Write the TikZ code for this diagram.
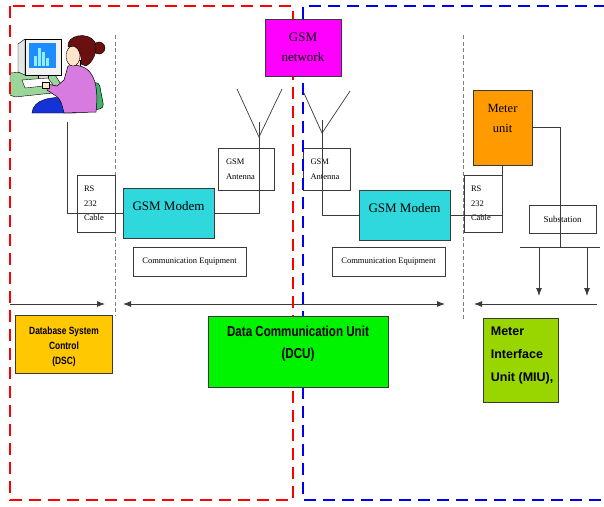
\documentclass[tikz,border=0pt]{standalone}
\usepackage{fontspec}
\setmainfont{Liberation Serif}
\setsansfont{Liberation Sans}
\newfontfamily\estrecha[FakeStretch=0.8]{Liberation Sans}
\usetikzlibrary{arrows.meta}
\definecolor{Magenta}{HTML}{FF00FF}
\definecolor{Cian}{HTML}{2ED8DC}
\definecolor{Naranja}{HTML}{FF9A00}
\definecolor{Amarillo}{HTML}{FFC800}
\definecolor{VerdeVivo}{HTML}{00F400}
\definecolor{VerdeLima}{HTML}{99D600}
\definecolor{Rojo}{HTML}{FF0000}
\definecolor{Azul}{HTML}{0000F0}
\definecolor{GrisOscuro}{HTML}{3A3A3A}
\definecolor{Mesa}{HTML}{9AD69A}
\definecolor{Pantalla}{HTML}{1E8CFF}
\definecolor{Barras}{HTML}{8FEFFF}
\definecolor{Pelo}{HTML}{6A1010}
\definecolor{Piel}{HTML}{FFE6C8}
\definecolor{Blusa}{HTML}{D77BE0}
\definecolor{Pantalon}{HTML}{1433D6}
\definecolor{Silla}{HTML}{3DB86A}

\begin{document}
\begin{tikzpicture}[
  x=1pt,y=-1pt,
  >={Latex[length=8pt,width=6pt]},
  font=\fontsize{8.5}{14.5}\selectfont,
  caja/.style={draw=GrisOscuro,line width=0.7pt,inner sep=0pt,align=center},
  rotulo/.style={inner sep=0pt},
  linea/.style={GrisOscuro,line width=0.7pt},
  arr/.style={->,GrisOscuro,line width=0.9pt},
  guia/.style={gray,line width=0.6pt,dash pattern=on 4pt off 2.5pt},
  zona/.style={line width=2.8pt,dash pattern=on 12pt off 7pt}
]
  \useasboundingbox (0,0) rectangle (604,506);
  \fill[white] (0,0) rectangle (604,506);

  % usuaria frente al ordenador
  \filldraw[fill=Mesa,draw=black,line width=0.4pt] (10,73) -- (52,70) -- (62,86) -- (62,92) -- (15,97) -- (10,95) -- cycle;
  \filldraw[fill=black!10,draw=black,line width=0.4pt] (18,44) -- (25,39) -- (25,75) -- (18,72) -- cycle;
  \filldraw[fill=black!5,draw=black,line width=0.5pt] (25,39) rectangle (61,75);
  \fill[Pantalla] (29,43) rectangle (56,68);
  \foreach \x/\h in {34/10,38/18,42/14,46/8}
    \fill[Barras] (\x,66) rectangle ++(3,-\h);
  \filldraw[fill=black!15,draw=black,line width=0.4pt] (38,75) rectangle (48,79);
  \filldraw[fill=white,draw=black,line width=0.4pt] (22,80) -- (48,78) -- (53,85) -- (25,88) -- cycle;
  \filldraw[fill=Silla,draw=black,line width=0.5pt,rounded corners=4pt] (74,86) -- (99,82) -- (104,108) -- (80,113) -- cycle;
  \draw[black!70,line width=0.8pt] (90,88) -- (88,110);
  \filldraw[fill=Pantalon,draw=black,line width=0.4pt] (32,113) .. controls (33,99) and (52,96) .. (70,98) -- (76,113) -- cycle;
  \filldraw[fill=Piel,draw=black,line width=0.4pt] (72,60) rectangle (80,70);
  \filldraw[fill=Blusa,draw=black,line width=0.5pt] (68,66) .. controls (90,62) and (100,78) .. (96,112) -- (64,113) .. controls (62,104) and (60,98) .. (56,96) -- (47,90) -- (47,84) -- (57,86) -- (64,80) -- cycle;
  \filldraw[fill=Piel,draw=black,line width=0.4pt] (42,82) rectangle (49,88);
  \filldraw[fill=Piel,draw=black,line width=0.4pt] (73,56) ellipse (7 and 10);
  \filldraw[fill=Pelo,draw=black,line width=0.4pt] (99,48) circle (6);
  \filldraw[fill=Pelo,draw=black,line width=0.4pt] (68,47) .. controls (66,35) and (88,31) .. (95,42) .. controls (98,52) and (93,62) .. (86,66) -- (81,64) .. controls (82,56) and (79,48) .. (74,46) -- cycle;
  \coordinate (pc) at (67,122);

  % separaciones entre bloques
  \draw[guia] (115,35) -- (115,315);
  \draw[guia] (463,35) -- (463,320);

  % lado del centro de datos
  \node[caja,minimum width=38pt,minimum height=57pt,text width=24pt,align=left] (rsA) at (96,203.5) {RS\\232\\Cable};
  \node[caja,fill=Cian,minimum width=91pt,minimum height=50pt,text depth=14pt,font=\fontsize{13}{15}\selectfont] (modemA) at (168.5,213) {GSM Modem};
  \node[caja,minimum width=56pt,minimum height=42pt,text width=40pt,align=left] (antA) at (246,169) {GSM\\Antenna};
  \node[caja,minimum width=113pt,minimum height=29pt] (equipoA) at (189.5,261.5) {Communication Equipment};
  \coordinate (vA1) at (237,89);
  \coordinate (puntaA) at (259,137);
  \coordinate (vA2) at (282,89);
  \coordinate (mastilA) at (259,122);
  \draw[linea] (pc) |- (modemA.west);
  \draw[linea] (vA1) -- (puntaA) -- (vA2);
  \draw[linea] (mastilA) |- (modemA.east);

  % lado del medidor
  \node[caja,minimum width=47pt,minimum height=42pt,text width=32pt,align=left] (antB) at (326.5,169) {GSM\\Antenna};
  \node[caja,fill=Cian,minimum width=91pt,minimum height=50pt,text depth=14pt,font=\fontsize{13}{15}\selectfont] (modemB) at (404.5,215) {GSM Modem};
  \node[caja,minimum width=113pt,minimum height=29pt] (equipoB) at (388.5,261.5) {Communication Equipment};
  \node[caja,minimum width=38pt,minimum height=57pt,text width=24pt,align=left] (rsB) at (483,203.5) {RS\\232\\Cable};
  \node[caja,fill=Naranja,minimum width=59pt,minimum height=75pt,text depth=18pt,font=\fontsize{12.5}{20}\selectfont] (medidor) at (502.5,127.5) {Meter\\unit};
  \node[caja,minimum width=67pt,minimum height=28pt,font=\fontsize{9}{11}\selectfont] (subestacion) at (562.5,219) {Substation};
  \coordinate (vB1) at (303,91);
  \coordinate (puntaB) at (322,133);
  \coordinate (vB2) at (350,91);
  \coordinate (mastilB) at (322,120);
  \draw[linea] (vB1) -- (puntaB) -- (vB2);
  \draw[linea] (mastilB) |- (modemB.west);
  \draw[linea] (modemB.east) -| (medidor.south);
  \coordinate (barra) at (560,247);
  \coordinate (barraI) at (520,247);
  \coordinate (barraD) at (600,247);
  \draw[linea] (medidor.east) -| (barra);
  \draw[linea] (barraI) -- (barraD);
  \foreach \x in {539,587}
    \draw[arr] (\x,247) -- (\x,296);

  % alcance de cada unidad
  \coordinate (dscI) at (10,304);
  \coordinate (dscD) at (105,304);
  \coordinate (dcuI) at (123,304);
  \coordinate (dcuD) at (445,304);
  \coordinate (miuI) at (474,304);
  \coordinate (miuD) at (597,304);
  \draw[arr] (dscI) -- (dscD);
  \draw[arr,<->] (dcuI) -- (dcuD);
  \draw[arr] (miuD) -- (miuI);

  \node[caja,fill=Amarillo,minimum width=97pt,minimum height=58pt] (dsc) at (64,344) {};
  \node[rotulo,anchor=north,align=center,font=\estrecha\bfseries\fontsize{10.5}{15}\selectfont]
    (dscT) at ([yshift=-12pt]dsc.north) {Database System\\Control\\(DSC)};
  \node[caja,fill=VerdeLima,minimum width=75pt,minimum height=84pt] (miu) at (520.5,360.5) {};
  \node[rotulo,anchor=north west,align=left,font=\sffamily\bfseries\fontsize{12.5}{23}\selectfont]
    (miuT) at ([xshift=8pt,yshift=-9pt]miu.north west) {Meter\\Interface\\Unit (MIU),};

  % zonas de cada extremo
  \draw[zona,Rojo] (10,6) rectangle (293,500);
  \draw[zona,Azul] (606,6) -- (303,6) -- (303,500) -- (606,500);

  \node[caja,fill=Magenta,minimum width=76pt,minimum height=57pt,font=\fontsize{13}{20}\selectfont] (redgsm) at (303,47.5) {GSM\\network};
  \node[caja,fill=VerdeVivo,minimum width=180pt,minimum height=71pt] (dcu) at (298,351.5) {};
  \node[rotulo,anchor=north,align=center,font=\estrecha\bfseries\fontsize{14.5}{22}\selectfont]
    (dcuT) at ([yshift=-10.5pt]dcu.north) {Data Communication Unit\\(DCU)};
\end{tikzpicture}
\end{document}
